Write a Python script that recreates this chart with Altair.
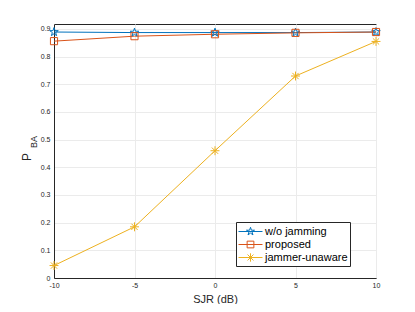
import altair as alt
import pandas as pd

sjr = [-10, -5, 0, 5, 10]
wo_jamming = [0.889, 0.887, 0.887, 0.887, 0.889]
proposed = [0.856, 0.874, 0.881, 0.886, 0.889]
unaware = [0.045, 0.185, 0.460, 0.730, 0.855]
series = ["w/o jamming", "proposed", "jammer-unaware"]
colors = ["#0072BD", "#D95319", "#EDB120"]
x_ticks = [-10, -5, 0, 5, 10]
y_ticks = [0, 0.1, 0.2, 0.3, 0.4, 0.5, 0.6, 0.7, 0.8, 0.9]

rows = []
for name, vals in zip(series, [wo_jamming, proposed, unaware]):
    for s, v in zip(sjr, vals):
        rows.append({"sjr": s, "p": v, "series": name})
df = pd.DataFrame(rows)

STAR = "M0,-1L0.225,-0.309L0.951,-0.309L0.363,0.118L0.588,0.809L0,0.382L-0.588,0.809L-0.363,0.118L-0.951,-0.309L-0.225,-0.309Z"
SQUARE = "M-0.8,-0.8L0.8,-0.8L0.8,0.8L-0.8,0.8Z"
ASTER = "M-1,0L1,0M0,-1L0,1M-0.7,-0.7L0.7,0.7M-0.7,0.7L0.7,-0.7"
markers = [STAR, SQUARE, ASTER]


def scaled(path, k):
    out = []
    num = ""
    for ch in path:
        if ch in "MLZ,":
            if num:
                out.append(str(round(float(num) * k, 3)))
                num = ""
            out.append(ch)
        else:
            num += ch
    if num:
        out.append(str(round(float(num) * k, 3)))
    return "".join(out)


# legend symbol: 14px box, line 24px wide, marker ~8.5px
leg_paths = ["M-1.714,0L1.714,0" + scaled(p, 0.6) for p in markers]

FONT = "Liberation Sans"
color_scale = alt.Scale(domain=series, range=colors)

x_enc = alt.X("sjr:Q", scale=alt.Scale(domain=[-10, 10], nice=False),
              axis=alt.Axis(values=x_ticks, title="SJR (dB)", grid=True, labelFlush=False,
                            labelExpr="'' + datum.value"))
y_enc = alt.Y("p:Q", scale=alt.Scale(domain=[0, 0.918], nice=False),
              axis=alt.Axis(values=y_ticks, title=None, grid=True, labelOverlap=False,
                            labelExpr="datum.value == 0 ? '0' : format(datum.value, '.1f')"))

leg = alt.Legend(orient="none", legendX=182, legendY=198, title=None,
                 labelFont=FONT, labelFontSize=11, labelColor="#000000",
                 symbolSize=196, symbolStrokeWidth=1, symbolOpacity=1,
                 symbolFillColor="transparent", symbolOffset=5,
                 padding=2, rowPadding=-0.5, labelOffset=7,
                 strokeColor="#262626", fillColor="white", cornerRadius=0)

color_enc = alt.Color("series:N", scale=color_scale, sort=series, legend=leg)
shape_enc = alt.Shape("series:N", scale=alt.Scale(domain=series, range=leg_paths), sort=series, legend=leg)

base = alt.Chart(df)

lines = base.mark_line(strokeWidth=1).encode(x=x_enc, y=y_enc, color=color_enc)

point_layers = []
for name, col, mk in zip(series, colors, markers):
    point_layers.append(
        base.transform_filter(alt.datum.series == name).mark_point(
            shape=mk, filled=False, strokeWidth=1, size=80, opacity=1, color=col
        ).encode(x=x_enc, y=y_enc)
    )

legend_layer = base.mark_point(opacity=0, filled=False).encode(
    x=x_enc, y=y_enc, color=color_enc, shape=shape_enc,
)

ylab_p = alt.Chart(pd.DataFrame({"t": ["P"]})).mark_text(
    angle=270, font=FONT, fontSize=12, color="#262626", align="center", baseline="middle"
).encode(text="t:N", x=alt.value(-27), y=alt.value(133))
ylab_ba = alt.Chart(pd.DataFrame({"t": ["BA"]})).mark_text(
    angle=270, font=FONT, fontSize=9, color="#262626", align="center", baseline="middle"
).encode(text="t:N", x=alt.value(-20), y=alt.value(118))

chart = alt.layer(lines, *point_layers, legend_layer, ylab_p, ylab_ba).properties(
    width=322, height=254,
    autosize=alt.AutoSizeParams(type="none"),
    padding={"left": 46, "top": 16, "right": 31, "bottom": 26},
).configure_view(stroke="#262626", strokeWidth=1).configure_axis(
    labelFont=FONT, labelFontSize=7, labelColor="#262626",
    titleFont=FONT, titleFontSize=11, titleColor="#262626", titleFontWeight="normal",
    domainColor="#262626", tickColor="#262626", tickSize=0,
    gridColor="#ebebeb", gridWidth=1, labelPadding=3,
).configure_axisX(titlePadding=5).configure_axisY(labelPadding=4)

chart.save("out.html", embed_options={"renderer": "svg", "actions": False})
